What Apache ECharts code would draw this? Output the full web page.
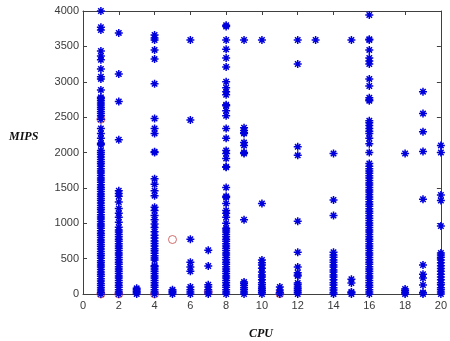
<!DOCTYPE html>
<html>
<head>
<meta charset="utf-8">
<script src="https://cdn.jsdelivr.net/npm/echarts@6/dist/echarts.min.js"></script>
<style>
html,body{margin:0;padding:0;background:#fff;}
#chart{width:450px;height:341px;}
</style>
</head>
<body>
<div id="chart"></div>
<script>
// ---- data (MIPS values per CPU column) ----
const cpu01 = [0,25,55,90,120,150,185,215,250,280,310,345,380,410,440,470,505,540,570,600,635,670,700,730,765,800,830,860,895,930,960,990,1025,1060,1090,1120,1155,1190,1220,1250,1285,1320,1350,1380,1415,1450,1480,1510,1545,1580,1610,1640,1675,1710,1740,1770,1805,1840,1870,1900,1935,1970,2000,2030,2110,2130,2200,2270,2340,2470,2520,2550,2580,2610,2640,2670,2700,2730,2760,2780,2885,3040,3070,3180,3310,3365,3435,3730,3770,4000];
const cpu02 = [0,30,60,95,125,160,190,225,255,290,320,355,385,420,450,485,515,550,580,615,645,680,710,745,775,810,840,875,905,945,1015,1085,1140,1210,1300,1380,1420,1460,2180,2720,3110,3690];
const cpu03 = [0,20,40,60,80];
const cpu04 = [0,30,60,95,125,160,190,225,255,290,320,355,385,400,480,510,540,575,610,640,680,715,750,790,830,880,940,990,1050,1110,1180,1225,1390,1460,1550,1630,2000,2010,2270,2340,2480,2970,3320,3450,3590,3620,3660];
const cpu05 = [0,20,40,60];
const cpu06 = [0,30,60,100,320,380,450,775,2460,3590];
const cpu07 = [0,30,60,100,130,395,620];
const cpu08 = [0,30,60,95,125,160,190,225,255,290,320,355,385,420,450,485,515,550,580,615,645,680,710,745,775,810,840,875,905,930,1000,1085,1140,1180,1280,1365,1380,1505,1790,1800,1915,1985,2030,2200,2340,2520,2590,2660,2675,2815,2860,2915,3000,3210,3335,3460,3590,3780,3800];
const cpu09 = [0,30,60,90,120,150,170,1050,1985,2000,2100,2140,2270,2280,2310,2350,3590];
const cpu10 = [0,25,50,75,100,130,160,200,240,270,310,365,410,440,480,1280,3590];
const cpu11 = [0,20,56,100];
const cpu12 = [0,25,50,75,100,130,155,255,270,300,380,590,1030,1960,2080,3250,3590];
const cpu13 = [3590];
const cpu14 = [0,20,56,90,127,160,200,240,270,310,340,380,410,450,480,520,550,590,1110,1330,1985];
const cpu15 = [0,20,30,155,210,3590];
const cpu16 = [0,30,60,95,125,160,190,225,255,290,320,355,385,420,450,485,515,550,580,615,645,680,710,745,775,810,840,875,905,940,970,1005,1040,1070,1105,1140,1170,1205,1240,1270,1305,1340,1370,1405,1440,1470,1505,1540,1570,1605,1640,1670,1705,1740,1770,1805,1845,2000,2125,2200,2270,2300,2340,2380,2420,2450,2730,2745,2775,2940,3040,3250,3295,3335,3450,3590,3600,3943];
const cpu18 = [0,20,45,70,1985];
const cpu19 = [0,20,127,225,280,410,1340,2015,2295,2550,2860];
const cpu20 = [0,30,60,90,130,160,200,240,280,320,360,400,440,480,520,550,580,960,1320,1400,2000,2100];

const cpuColumns = [1,2,3,4,5,6,7,8,9,10,11,12,13,14,15,16,18,19,20];
const mipsColumns = [cpu01,cpu02,cpu03,cpu04,cpu05,cpu06,cpu07,cpu08,cpu09,cpu10,cpu11,cpu12,cpu13,cpu14,cpu15,cpu16,cpu18,cpu19,cpu20];

// red circled points (centres)
const redCpu  = [1, 5, 1, 2, 4, 7, 11];
const redMips = [2470, 770, 0, 0, 0, 30, 5];

const xTicks = [0,2,4,6,8,10,12,14,16,18,20];
const yTicks = [0,500,1000,1500,2000,2500,3000,3500,4000];

// ---- build options ----
const blueData = [];
cpuColumns.forEach((c, i) => mipsColumns[i].forEach(v => blueData.push([c, v])));
const redData = redCpu.map((c, i) => [c, redMips[i]]);

const star = 'path://M5 0L5 10M0 5L10 5M1.6 1.6L8.4 8.4M8.4 1.6L1.6 8.4';
const axisCol = '#404040';
const labelFont = {color: '#3a3a3a', fontSize: 11, fontFamily: '"Liberation Sans", Arial, sans-serif'};

const chart = echarts.init(document.getElementById('chart'), null, {renderer: 'canvas'});
chart.setOption({
  backgroundColor: '#fff',
  animation: false,
  grid: {left: 83, right: 7, top: 11, bottom: 47, containLabel: false},
  xAxis: [
    {type: 'value', min: 0, max: 20, interval: 2, position: 'bottom',
     axisLine: {show: true, onZero: false, lineStyle: {color: axisCol, width: 1}},
     axisTick: {show: true, inside: true, length: 4, lineStyle: {color: axisCol}},
     axisLabel: Object.assign({margin: 6, formatter: v => xTicks.includes(v) ? String(v) : ''}, labelFont),
     splitLine: {show: false}},
    {type: 'value', min: 0, max: 20, interval: 2, position: 'top',
     axisLine: {show: true, onZero: false, lineStyle: {color: axisCol, width: 1}},
     axisTick: {show: true, inside: true, length: 4, lineStyle: {color: axisCol}},
     axisLabel: {show: false}, splitLine: {show: false}}
  ],
  yAxis: [
    {type: 'value', min: 0, max: 4000, interval: 500, position: 'left',
     axisLine: {show: true, onZero: false, lineStyle: {color: axisCol, width: 1}},
     axisTick: {show: true, inside: true, length: 4, lineStyle: {color: axisCol}},
     axisLabel: Object.assign({margin: 4, formatter: v => yTicks.includes(v) ? String(v) : ''}, labelFont),
     splitLine: {show: false}},
    {type: 'value', min: 0, max: 4000, interval: 500, position: 'right',
     axisLine: {show: true, onZero: false, lineStyle: {color: axisCol, width: 1}},
     axisTick: {show: true, inside: true, length: 4, lineStyle: {color: axisCol}},
     axisLabel: {show: false}, splitLine: {show: false}}
  ],
  graphic: [
    {type: 'text', left: 9, top: 131, style: {text: 'MIPS', fill: '#111', font: 'italic bold 12px "Liberation Serif", "Times New Roman", serif'}},
    {type: 'text', left: 249, top: 328, style: {text: 'CPU', fill: '#111', font: 'italic bold 12px "Liberation Serif", "Times New Roman", serif'}}
  ],
  series: [
    {type: 'scatter', name: 'centres', xAxisIndex: 0, yAxisIndex: 0, clip: false, z: 2,
     symbol: 'circle', symbolSize: 8, data: redData,
     itemStyle: {color: 'rgba(0,0,0,0)', borderColor: '#c84848', borderWidth: 1}},
    {type: 'scatter', name: 'tasks', xAxisIndex: 0, yAxisIndex: 0, clip: false, z: 3,
     symbol: star, symbolSize: 8, data: blueData,
     itemStyle: {color: '#0000dd', borderColor: '#0000dd', borderWidth: 1.5, opacity: 1}}
  ]
});
</script>
</body>
</html>
